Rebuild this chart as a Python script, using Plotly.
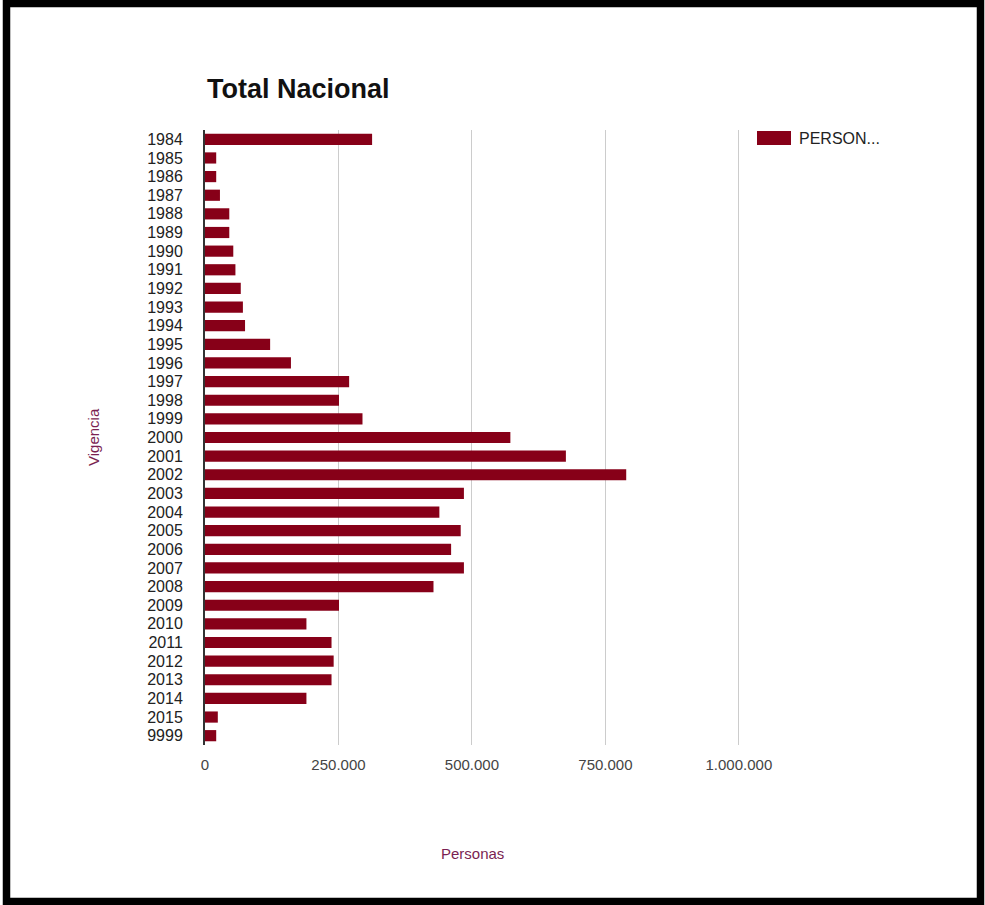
import plotly.graph_objects as go

years = ["1984", "1985", "1986", "1987", "1988", "1989", "1990", "1991", "1992", "1993",
         "1994", "1995", "1996", "1997", "1998", "1999", "2000", "2001", "2002", "2003",
         "2004", "2005", "2006", "2007", "2008", "2009", "2010", "2011", "2012", "2013",
         "2014", "2015", "9999"]
personas = [313000, 21000, 21000, 28000, 45500, 45500, 53000, 57000, 67000, 71000,
            75000, 122000, 161000, 270000, 251000, 295000, 572000, 676000, 789000, 485000,
            439000, 479000, 461000, 485000, 428000, 251000, 190000, 237000, 241000, 237000,
            190000, 24000, 21000]
tick_vals = [0, 250000, 500000, 750000, 1000000]
tick_text = ["0", "250.000", "500.000", "750.000", "1.000.000"]
series_name = "PERSONAS"
legend_label = "PERSON..."

W, H = 985, 905
L, R, T, B = 205, 741, 130, 745
XMAX = 1004000
BAR = "#870018"
TITLE_COL = "#7a1f52"


def px(x):
    return (x - L) / (R - L)


def py(y):
    return (B - y) / (B - T)


fig = go.Figure()
fig.add_trace(go.Bar(
    x=personas, y=years, orientation="h", name=series_name,
    marker=dict(color=BAR, line=dict(width=0)), showlegend=False,
))

fig.update_layout(
    width=W, height=H,
    margin=dict(l=L, r=W - R, t=T, b=H - B, pad=0),
    paper_bgcolor="white", plot_bgcolor="white",
    bargap=0.4,
    font=dict(family="Liberation Sans, Arial, sans-serif"),
    title=dict(text="<b>Total Nacional</b>", x=207 / W, xanchor="left",
               y=1 - 89 / H, yanchor="middle", xref="container", yref="container",
               font=dict(size=27, color="#111")),
    xaxis=dict(range=[0, XMAX], tickvals=tick_vals, ticktext=tick_text,
               showgrid=True, gridcolor="#cccccc", gridwidth=1, zeroline=False,
               showline=False, ticks="", ticklabelstandoff=9,
               tickfont=dict(size=15, color="#444444")),
    yaxis=dict(type="category", categoryorder="array", categoryarray=years,
               tickmode="array", tickvals=years, ticktext=years,
               range=[len(years) - 0.5, -0.5], showgrid=False, zeroline=False,
               showline=True, linecolor="#333333", linewidth=2, ticks="",
               ticklabelstandoff=17, tickfont=dict(size=16, color="#222222")),
    shapes=[
        dict(type="rect", xref="paper", yref="paper",
             x0=px(757), x1=px(791), y0=py(131), y1=py(145),
             fillcolor=BAR, line=dict(width=0)),
        dict(type="rect", xref="paper", yref="paper",
             x0=px(6.5), x1=px(980.5), y0=py(3.5), y1=py(901.5),
             line=dict(color="black", width=7.5), fillcolor="rgba(0,0,0,0)"),
    ],
    annotations=[
        dict(text=legend_label, xref="paper", yref="paper", x=px(797), y=py(138),
             xanchor="left", yanchor="middle", showarrow=False,
             font=dict(size=16, color="#222222")),
        dict(text="Vigencia", xref="paper", yref="paper", x=px(93), y=py(437),
             xanchor="center", yanchor="middle", showarrow=False, textangle=-90,
             font=dict(size=15, color=TITLE_COL)),
        dict(text="Personas", xref="paper", yref="paper", x=px(472), y=py(853),
             xanchor="center", yanchor="middle", showarrow=False,
             font=dict(size=15, color=TITLE_COL)),
    ],
)

fig.write_html("out.html")
